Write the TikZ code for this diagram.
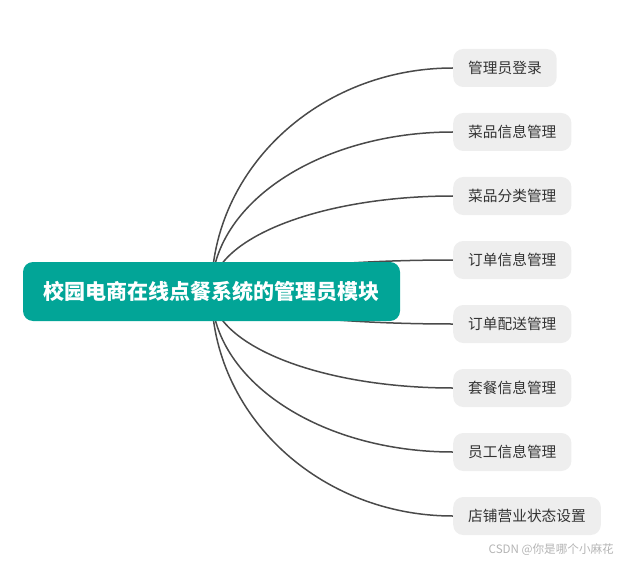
\documentclass[tikz,border=0pt]{standalone}
\usepackage{fontspec}
\setmainfont{Noto Sans CJK SC}
\usetikzlibrary{calc,backgrounds}
\definecolor{rootteal}{HTML}{02A597}
\definecolor{leafgray}{HTML}{EEEEEE}
\definecolor{leaftext}{HTML}{333333}
\definecolor{linkgray}{HTML}{4A4A4A}
\definecolor{wmgray}{HTML}{B4B4B4}
\begin{document}
\begin{tikzpicture}[x=1pt,y=-1pt,
  rootbox/.style={fill=rootteal, rounded corners=10pt, text=white,
    font=\fontsize{21}{25}\selectfont\bfseries, minimum width=377pt,
    minimum height=59pt, inner sep=0pt},
  leafbox/.style={fill=leafgray, rounded corners=10pt, text=leaftext,
    font=\fontsize{14.7}{18}\selectfont, minimum height=38pt,
    inner xsep=15pt, inner ysep=0pt, anchor=west},
  link/.style={draw=linkgray, line width=1.5pt},
  wmark/.style={text=wmgray, font=\fontsize{11.6}{14}\selectfont, anchor=east, inner sep=0pt}]
\useasboundingbox (0,0) rectangle (620,561);
\node[rootbox] (root) at (211.5,291.5) {校园电商在线点餐系统的管理员模块};
\node[leafbox] (c1) at (453,68) {管理员登录};
\node[leafbox] (c2) at (453,132) {菜品信息管理};
\node[leafbox] (c3) at (453,196) {菜品分类管理};
\node[leafbox] (c4) at (453,260) {订单信息管理};
\node[leafbox] (c5) at (453,324) {订单配送管理};
\node[leafbox] (c6) at (453,388) {套餐信息管理};
\node[leafbox] (c7) at (453,452) {员工信息管理};
\node[leafbox] (c8) at (453,516) {店铺营业状态设置};
\node[wmark] (wm) at (614,550) {CSDN @你是哪个小麻花};
\begin{pgfonlayer}{background}
\foreach \i in {1,...,8}{
  \coordinate (k\i) at (root.center |- c\i.west);
  \draw[link] (root.center) .. controls ($(root.center)!0.552!(k\i)$) and ($(c\i.west)!0.552!(k\i)$) .. (c\i.west);
}
\end{pgfonlayer}
\end{tikzpicture}
\end{document}
